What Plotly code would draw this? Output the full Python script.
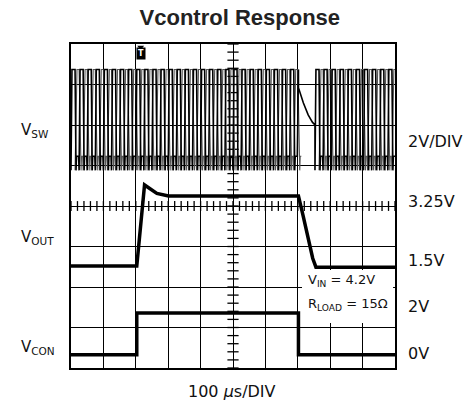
import numpy as np
import plotly.graph_objects as go

# ---------------- data (time in µs, amplitude in scope divisions) ----------------
# V_OUT trace
vout_t = [0, 203, 227, 245, 265, 301, 702, 717, 733, 746, 756, 1000]
vout_v = [2.52, 2.52, 4.52, 4.41, 4.31, 4.25, 4.25, 3.74, 3.16, 2.71, 2.49, 2.49]

# V_CON trace
vcon_t = [0, 203, 203, 702, 702, 1000]
vcon_v = [0.33, 0.33, 1.36, 1.36, 0.33, 0.33]

# V_SW switching trace: levels, switching period and burst windows
vsw_high = 7.37
vsw_low = 5.23
vsw_spike = 4.88
vsw_period_us = 25
vsw_bursts = [(0, 700), (753, 1000)]
vsw_decay_t = [702, 702, 717, 732, 745, 753]
vsw_decay_v = [7.37, 6.92, 6.55, 6.25, 6.07, 6.0]

# labels
left_labels = ["V<sub>SW</sub>", "V<sub>OUT</sub>", "V<sub>CON</sub>"]
left_label_y = [130, 237, 347]          # pixel rows of label centres
right_labels = ["2V/DIV", "3.25V", "1.5V", "2V", "0V"]
right_label_y = [141, 201, 260, 306, 353]
title_text = "Vcontrol Response"
time_label = "100 <i>µ</i>s/DIV"
cond_labels = ["V<sub>IN</sub> = 4.2V", "R<sub>LOAD</sub> = 15Ω"]
cond_label_y = [2.15, 1.56]

# plot-area geometry in pixels (for converting label rows to paper coords)
PL, PT, PW, PH = 71, 44, 324, 324


def px_x(px):
    return (px - PL) / PW


def px_y(py):
    return (PT + PH - py) / PH


# ---------------- build V_SW polylines ----------------
def burst(start, end, phase=0.0, edge=3.0):
    ts, vs = [], []
    half = vsw_period_us / 2
    for t0 in np.arange(start + phase, end, vsw_period_us):
        ts += [t0, t0 + edge, t0 + half, t0 + half + edge, t0 + half + edge + 1.5,
               t0 + vsw_period_us - 1.5]
        vs += [vsw_spike, vsw_high, vsw_high, vsw_spike, vsw_low, vsw_low]
    return ts, vs


t1, v1 = burst(*vsw_bursts[0])
t2, v2 = burst(*vsw_bursts[1])
vsw_t = t1 + vsw_decay_t + t2
vsw_v = v1 + vsw_decay_v + v2

# persistence ghost strokes of the scope display (other sweeps, shifted phase)
g1, gv1 = burst(vsw_bursts[0][0], vsw_bursts[0][1] - 12, phase=12.5, edge=6)
g2, gv2 = burst(vsw_bursts[1][0], vsw_bursts[1][1], phase=12.5, edge=6)

fig = go.Figure()

# white box behind the condition text (covers grid)
fig.add_shape(type="rect", x0=713, x1=994, y0=1.11, y1=2.42, xref="x", yref="y",
              fillcolor="white", line=dict(width=0), layer="between")

# minor ticks on centre lines
minor_x = np.arange(0, 1001, 20)
minor_y = np.arange(0, 8.01, 0.2)
fig.add_trace(go.Scatter(x=minor_x, y=[4] * len(minor_x), mode="markers",
                         marker=dict(symbol="line-ns", size=7, line=dict(color="black", width=1.3)),
                         hoverinfo="skip"))
fig.add_trace(go.Scatter(x=[500] * len(minor_y), y=minor_y, mode="markers",
                         marker=dict(symbol="line-ew", size=8, line=dict(color="black", width=1.3)),
                         hoverinfo="skip"))

fig.add_trace(go.Scatter(x=g1, y=gv1, mode="lines",
                         line=dict(color="#555", width=1.1), hoverinfo="skip"))
fig.add_trace(go.Scatter(x=g2, y=gv2, mode="lines",
                         line=dict(color="#555", width=1.1), hoverinfo="skip"))
fig.add_trace(go.Scatter(x=vsw_t, y=vsw_v, mode="lines",
                         line=dict(color="black", width=1.6), hoverinfo="skip"))
fig.add_trace(go.Scatter(x=vout_t, y=vout_v, mode="lines",
                         line=dict(color="black", width=3.5), hoverinfo="skip"))
fig.add_trace(go.Scatter(x=vcon_t, y=vcon_v, mode="lines",
                         line=dict(color="black", width=3.5), hoverinfo="skip"))

# trigger marker
fig.add_trace(go.Scatter(x=[215], y=[7.92], mode="markers",
                         marker=dict(symbol="triangle-down", size=6, color="black"),
                         cliponaxis=False, hoverinfo="skip"))
fig.add_annotation(x=215, y=7.76, xref="x", yref="y", text="<b>T</b>", showarrow=False,
                   font=dict(family="DejaVu Sans", size=8, color="white"),
                   bgcolor="black", borderpad=1)

for txt, yy in zip(left_labels, left_label_y):
    fig.add_annotation(x=px_x(19), y=px_y(yy), xref="paper", yref="paper", text=txt,
                       showarrow=False, xanchor="left", yanchor="middle",
                       font=dict(family="DejaVu Sans", size=15, color="#111"))
for txt, yy in zip(right_labels, right_label_y):
    fig.add_annotation(x=px_x(406), y=px_y(yy), xref="paper", yref="paper", text=txt,
                       showarrow=False, xanchor="left", yanchor="middle",
                       font=dict(family="DejaVu Sans", size=16, color="#111"))
for txt, yy in zip(cond_labels, cond_label_y):
    fig.add_annotation(x=725, y=yy, xref="x", yref="y", text=txt, showarrow=False,
                       xanchor="left", yanchor="middle",
                       font=dict(family="DejaVu Sans", size=13, color="#111"))
fig.add_annotation(x=px_x(232), y=px_y(392), xref="paper", yref="paper", text=time_label,
                   showarrow=False, xanchor="center", yanchor="middle",
                   font=dict(family="DejaVu Sans", size=16, color="#111"))

fig.update_layout(
    width=473, height=404,
    margin=dict(l=PL, r=473 - PL - PW, t=PT, b=404 - PT - PH),
    plot_bgcolor="white", paper_bgcolor="white",
    showlegend=False,
    title=dict(text="<b>" + title_text + "</b>", x=0.507, xanchor="center",
               y=1 - 17 / 404, yanchor="middle", xref="container", yref="container",
               font=dict(family="Liberation Sans, Arial", size=22, color="#222")),
)
axis_common = dict(showgrid=True, gridcolor="black", gridwidth=1.3, showticklabels=False,
                   ticks="", zeroline=False, showline=True, linecolor="black", linewidth=2,
                   mirror=True, fixedrange=True)
fig.update_xaxes(range=[0, 1000], dtick=100, tick0=0, **axis_common)
fig.update_yaxes(range=[0, 8], dtick=1, tick0=0, **axis_common)

fig.write_html("out.html", config={"displayModeBar": False},
               post_script="document.body.style.margin='0';")
